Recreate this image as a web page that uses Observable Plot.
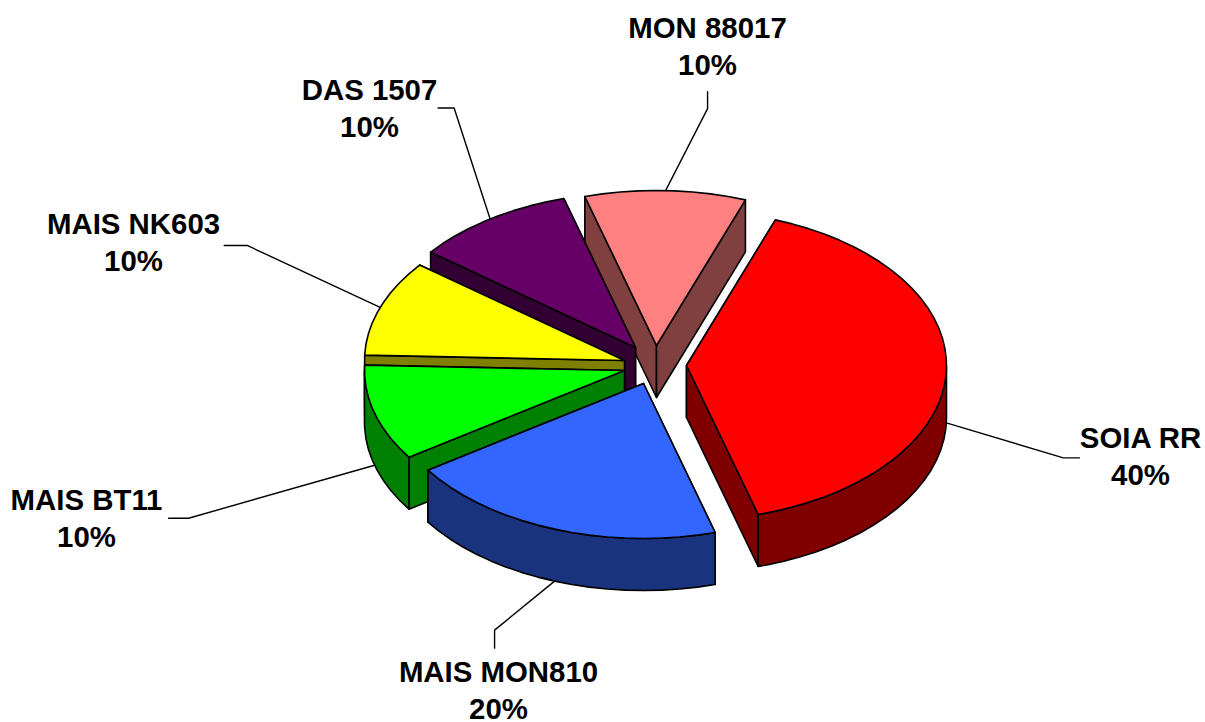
<!DOCTYPE html>
<html>
<head>
<meta charset="utf-8">
<style>html,body{margin:0;padding:0;background:#fff}svg{display:block}</style>
<script src="https://cdn.jsdelivr.net/npm/d3@7"></script>
<script src="https://cdn.jsdelivr.net/npm/@observablehq/plot@0.6"></script>
</head>
<body>
<div id="chart"></div>
<script>
// Data, in clockwise pie order
const categories = ["SOIA RR", "MAIS MON810", "MAIS BT11", "MAIS NK603", "DAS 1507", "MON 88017"];
const shares = [40, 20, 10, 10, 10, 10];
const topColors = ["#ff0000", "#3366ff", "#00ff00", "#ffff00", "#660066", "#ff8080"];
const wallColors = ["#800000", "#1a337f", "#008000", "#808000", "#330033", "#804040"];

// Layout
const W = 1205, H = 722;
const startAngle = 20, rx = 260, ry = 155, depth = 52, centerX = 650, centerY = 365;
const explodeX = [36, -7, -26, -26, -15, 6];
const explodeY = [0, 18, 5, -5, -18, -20];
const elbowDX = [117, -60, -186, -133, -36, 42];
const elbowDY = [35, 49, 53, -62, -111, -82];
const tailDX = [16, 0, -20, -23, -16, 0];
const tailDY = [0, 18, 0, 0, 0, -17];
const labelX = [1140, 498, 86, 133, 369, 707];
const labelY = [454, 688, 516, 240, 106, 44];
const paintOrder = [5, 4, 3, 2, 1, 0];
const rimStep = 4;

const total = d3.sum(shares);
let acc = startAngle;
const slices = categories.map((name, i) => {
  const a0 = acc, a1 = acc + shares[i] / total * 360;
  acc = a1;
  return {name, share: shares[i], a0, a1, i, ax: centerX + explodeX[i], ay: centerY + explodeY[i]};
});
const rim = (s, deg, dy = 0) => {
  const t = deg * Math.PI / 180;
  return [s.ax + rx * Math.sin(t), s.ay - ry * Math.cos(t) + dy];
};
const arc = (s, dy, from = s.a0, to = s.a1) => {
  const pts = [];
  for (let d = from; d < to; d += rimStep) pts.push(rim(s, d, dy));
  pts.push(rim(s, to, dy));
  return pts;
};
const backness = deg => Math.cos(deg * Math.PI / 180);

const polys = [];
const addPoly = (id, col, pts) => {
  [...pts, pts[0]].forEach(([x, y]) => polys.push({id, col, x, y}));
};
for (const k of paintOrder) {
  const s = slices[k], wall = wallColors[k];
  const apex = [s.ax, s.ay], apexLow = [s.ax, s.ay + depth];
  // the cut face further back is painted first
  const cuts = [s.a0, s.a1].sort((a, b) => backness(b) - backness(a));
  cuts.forEach((deg, n) => addPoly(`${k}f${n}`, wall, [apex, rim(s, deg), rim(s, deg, depth), apexLow]));
  // only the front-facing part of the outer wall can be seen
  const from = Math.max(s.a0, 90), to = Math.min(s.a1, 270);
  if (from < to) addPoly(`${k}w`, wall, [...arc(s, 0, from, to), ...arc(s, depth, from, to).reverse()]);
  addPoly(`${k}t`, topColors[k], [apex, ...arc(s, 0)]);
}

const leaders = slices.flatMap(s => {
  const mid = (s.a0 + s.a1) / 2;
  const front = mid > 85 && mid < 275;
  const [x0, y0] = rim(s, mid, front ? depth : 0);
  const x1 = x0 + elbowDX[s.i], y1 = y0 + elbowDY[s.i];
  return [[x0, y0], [x1, y1], [x1 + tailDX[s.i], y1 + tailDY[s.i]]].map(([x, y]) => ({id: s.name, x, y}));
});

const labels = slices.map(s => ({text: `${s.name}\n${s.share}%`, x: labelX[s.i], y: labelY[s.i]}));

const chart = Plot.plot({
  width: W, height: H,
  margin: 0,
  style: {background: "#fff"},
  x: {domain: [0, W], range: [0, W], axis: null},
  y: {domain: [0, H], range: [0, H], axis: null},
  marks: [
    Plot.line(leaders, {x: "x", y: "y", z: "id", stroke: "#000", strokeWidth: 1.4}),
    Plot.line(polys, {x: "x", y: "y", z: "id", fill: "col", stroke: "#000", strokeWidth: 1.6, strokeLinejoin: "round"}),
    Plot.text(labels, {x: "x", y: "y", text: "text", fontFamily: "Liberation Sans", fontWeight: "bold", fontSize: 29.4, lineHeight: 1.26, fill: "#000", textAnchor: "middle", lineAnchor: "middle"})
  ]
});
document.getElementById("chart").append(chart);
</script>
</body>
</html>
